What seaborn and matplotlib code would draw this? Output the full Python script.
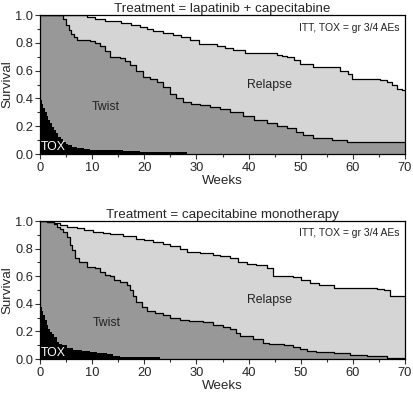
import numpy as np
import pandas as pd
import matplotlib
matplotlib.use('Agg')
import matplotlib.pyplot as plt
import seaborn as sns
from matplotlib.ticker import MultipleLocator

# TWiST-plot, tva behandlingsarmar

#_________________________________DATA________________________________________

panel_titles = ['Treatment = lapatinib + capecitabine', 'Treatment = capecitabine monotherapy']
note_text = 'ITT, TOX = gr 3/4 AEs'

# lapatinib + capecitabine
lap_relapse_t = [0, 9.0, 10.5, 12.5, 15.5, 17.5, 19.2, 20.5, 21.7, 23.5, 25.5, 27.0, 28.8, 30.5, 33.9, 35.5,
                 37.0, 39.3, 45.4, 46.5, 47.3, 48.7, 49.9, 52.4, 57.5, 59.1, 59.8, 65.2, 66.5, 67.5, 68.4, 69.5, 70]
lap_relapse_s = [1.0, 0.985, 0.97, 0.955, 0.94, 0.93, 0.915, 0.90, 0.885, 0.87, 0.855, 0.84, 0.82, 0.795, 0.78, 0.765,
                 0.75, 0.73, 0.715, 0.705, 0.695, 0.675, 0.65, 0.625, 0.60, 0.575, 0.54, 0.53, 0.515, 0.50, 0.47, 0.46, 0.46]

lap_twist_t = [0, 4.5, 5.0, 5.5, 6.0, 6.5, 7.0, 9.6, 10.5, 11.5, 12.5, 13.4, 15.3, 16.3, 17.3, 18.5, 19.8, 21.0,
               22.4, 23.5, 24.9, 26.0, 27.5, 29.0, 30.7, 32.6, 34.5, 36.5, 39.0, 41.0, 43.5, 45.5, 47.3, 49.0,
               50.5, 52.4, 55.9, 58.8, 70]
lap_twist_s = [1.0, 0.97, 0.93, 0.89, 0.86, 0.84, 0.82, 0.81, 0.80, 0.78, 0.74, 0.70, 0.69, 0.67, 0.64, 0.60, 0.555, 0.54,
               0.52, 0.48, 0.43, 0.40, 0.375, 0.36, 0.353, 0.34, 0.325, 0.30, 0.27, 0.245, 0.22, 0.20, 0.185, 0.16,
               0.137, 0.113, 0.10, 0.09, 0.09]

lap_tox_t = [0, 0.3, 0.64, 1.0, 1.3, 1.6, 1.9, 2.3, 2.6, 3.0, 3.5, 4.0, 4.5, 5.0, 5.4, 6.2, 7.0, 8.5, 9.6,
             16.0, 19.2, 22.4, 28.1]
lap_tox_s = [0.39, 0.36, 0.33, 0.30, 0.27, 0.245, 0.22, 0.195, 0.17, 0.15, 0.125, 0.105, 0.09, 0.075, 0.065, 0.05,
             0.04, 0.033, 0.029, 0.022, 0.014, 0.012, 0.0]

# capecitabine monotherapy
cap_relapse_t = [0, 1.3, 2.6, 3.8, 5.1, 7.0, 8.5, 10.2, 12.0, 13.4, 16.0, 18.5, 20.0, 21.7, 23.5, 25.0, 26.9, 28.1,
                 30.7, 33.2, 34.5, 36.4, 38.0, 39.6, 41.5, 43.5, 44.7, 48.5, 50.0, 51.8, 53.5, 56.3, 64.6, 66.0,
                 67.1, 70]
cap_relapse_s = [1.0, 0.99, 0.983, 0.97, 0.96, 0.95, 0.935, 0.923, 0.915, 0.905, 0.89, 0.867, 0.86, 0.85, 0.835, 0.82,
                 0.80, 0.778, 0.77, 0.754, 0.745, 0.73, 0.705, 0.686, 0.68, 0.657, 0.60, 0.593, 0.575, 0.55, 0.535,
                 0.517, 0.51, 0.50, 0.459, 0.459]

cap_twist_t = [0, 1.3, 2.6, 3.2, 3.8, 4.4, 5.1, 5.75, 6.1, 6.7, 7.5, 9.0, 10.5, 11.5, 12.5, 13.4, 14.1, 15.3, 16.6,
               17.3, 17.9, 18.5, 19.5, 20.5, 22.0, 23.6, 25.0, 26.8, 28.5, 31.3, 33.2, 35.1, 36.4, 37.5, 38.4,
               40.9, 42.8, 44.0, 46.7, 48.5, 49.9, 51.2, 53.0, 56.3, 59.5, 62.7, 66.5, 70]
cap_twist_s = [1.0, 0.99, 0.98, 0.96, 0.94, 0.92, 0.887, 0.826, 0.79, 0.73, 0.70, 0.67, 0.658, 0.634, 0.61, 0.598, 0.572,
               0.56, 0.536, 0.50, 0.46, 0.415, 0.38, 0.348, 0.33, 0.319, 0.30, 0.283, 0.275, 0.265, 0.248, 0.234,
               0.217, 0.19, 0.164, 0.143, 0.116, 0.11, 0.104, 0.09, 0.072, 0.055, 0.05, 0.043, 0.031, 0.019, 0.01, 0.01]

cap_tox_t = [0, 0.3, 0.64, 1.0, 1.3, 1.6, 1.9, 2.3, 2.6, 3.2, 3.7, 4.2, 5.1, 6.4, 8.0, 9.6, 11.0, 12.8, 14.0,
             15.3, 23.0]
cap_tox_s = [0.38, 0.35, 0.32, 0.28, 0.246, 0.22, 0.198, 0.18, 0.162, 0.125, 0.11, 0.10, 0.077, 0.065, 0.055, 0.048,
             0.04, 0.034, 0.025, 0.012, 0.0]

# label positions (weeks, survival)
lap_labels = {'Relapse': (44.1, 0.50), 'Twist': (12.7, 0.34), 'TOX': (2.5, 0.05)}
cap_labels = {'Relapse': (44.1, 0.43), 'Twist': (12.8, 0.26), 'TOX': (2.6, 0.04)}

#_________________________________PLOT________________________________________

sns.set_style('ticks')
plt.rcParams['font.family'] = ['Liberation Sans', 'DejaVu Sans']

col_relapse = '#d5d5d5'
col_twist = '#989898'
col_tox = '#000000'

fig = plt.figure(figsize=(4.13, 3.93), dpi=100)
ax1 = fig.add_axes([0.0969, 0.6081, 0.8838, 0.3537])
ax2 = fig.add_axes([0.0969, 0.0865, 0.8838, 0.3511])

panels = [
    (ax1, lap_relapse_t, lap_relapse_s, lap_twist_t, lap_twist_s, lap_tox_t, lap_tox_s, lap_labels, panel_titles[0]),
    (ax2, cap_relapse_t, cap_relapse_s, cap_twist_t, cap_twist_s, cap_tox_t, cap_tox_s, cap_labels, panel_titles[1]),
]

for ax, rt, rs, tt, ts, xt, xs, labels, title in panels:
    # ytor, fran overst till underst
    ax.fill_between(rt, 0, rs, step='post', color=col_relapse, lw=0)
    ax.fill_between(tt, 0, ts, step='post', color=col_twist, lw=0)
    ax.fill_between(xt, 0, xs, step='post', color=col_tox, lw=0)

    lines = pd.concat([
        pd.DataFrame({'Weeks': rt, 'Survival': rs, 'kurva': 'Relapse'}),
        pd.DataFrame({'Weeks': tt, 'Survival': ts, 'kurva': 'Twist'}),
    ])
    sns.lineplot(data=lines, x='Weeks', y='Survival', units='kurva', estimator=None,
                 color='black', lw=0.9, drawstyle='steps-post', ax=ax, legend=False)

    ax.set_xlim(0, 70)
    ax.set_ylim(0, 1.0)
    ax.xaxis.set_major_locator(MultipleLocator(10))
    ax.xaxis.set_minor_locator(MultipleLocator(5))
    ax.yaxis.set_major_locator(MultipleLocator(0.2))
    ax.yaxis.set_minor_locator(MultipleLocator(0.1))
    ax.yaxis.set_major_formatter(matplotlib.ticker.FormatStrFormatter('%.1f'))
    ax.tick_params(which='major', length=3.5, width=0.8, labelsize=9.3, pad=1.5, color='#333333')
    ax.tick_params(axis='x', which='major', pad=2.5)
    ax.tick_params(which='minor', length=2, width=0.8, color='#333333')
    for sp in ax.spines.values():
        sp.set_visible(True)
        sp.set_linewidth(0.9)
        sp.set_color('black')

    ax.set_title(title, fontsize=9.6, pad=2)
    ax.set_xlabel('Weeks', fontsize=9.6, labelpad=0.5)
    ax.set_ylabel('Survival', fontsize=9.6, labelpad=1)

    ax.text(*labels['Relapse'], 'Relapse', fontsize=8.8, ha='center', va='center', color='#222222')
    ax.text(*labels['Twist'], 'Twist', fontsize=8.8, ha='center', va='center', color='#222222')
    ax.text(*labels['TOX'], 'TOX', fontsize=8.8, ha='center', va='center', color='white')
    ax.text(0.985, 0.91, note_text, transform=ax.transAxes, fontsize=7.5, ha='right', va='center', color='#222222')

fig.savefig('out.png', dpi=100)
